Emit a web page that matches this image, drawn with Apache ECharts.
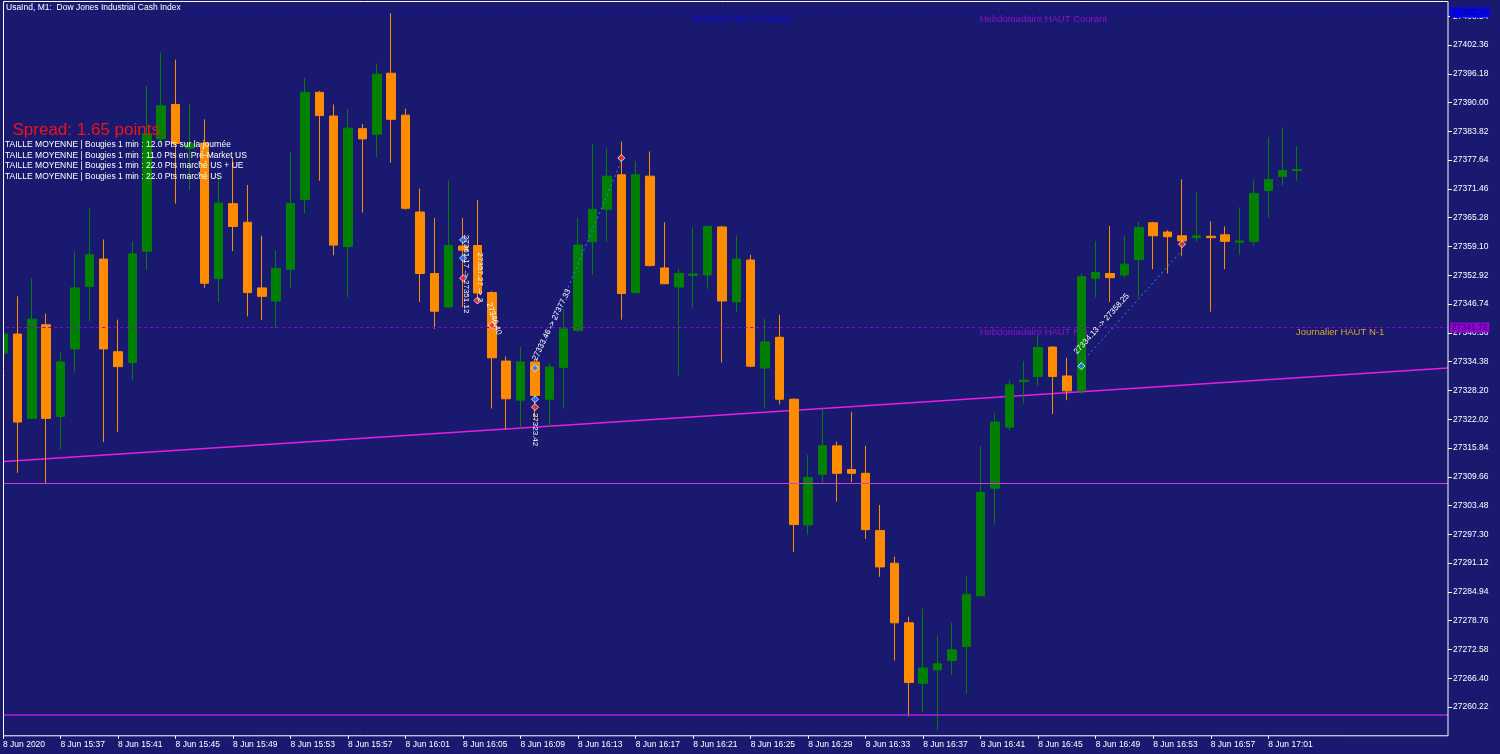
<!DOCTYPE html>
<html><head><meta charset="utf-8">
<script src="https://cdn.jsdelivr.net/npm/echarts@6/dist/echarts.min.js"></script>
<style>html,body{margin:0;padding:0;background:#191970;}#c{width:1500px;height:754px;}</style>
</head><body><div id="c"></div>
<script>
// ---- data ----
const categories = ['15:33','15:34','15:35','15:36','15:37','15:38','15:39','15:40','15:41','15:42','15:43','15:44','15:45','15:46','15:47','15:48','15:49','15:50','15:51','15:52','15:53','15:54','15:55','15:56','15:57','15:58','15:59','16:00','16:01','16:02','16:03','16:04','16:05','16:06','16:07','16:08','16:09','16:10','16:11','16:12','16:13','16:14','16:15','16:16','16:17','16:18','16:19','16:20','16:21','16:22','16:23','16:24','16:25','16:26','16:27','16:28','16:29','16:30','16:31','16:32','16:33','16:34','16:35','16:36','16:37','16:38','16:39','16:40','16:41','16:42','16:43','16:44','16:45','16:46','16:47','16:48','16:49','16:50','16:51','16:52','16:53','16:54','16:55','16:56','16:57','16:58','16:59','17:00','17:01','17:02','17:03'];
const tickIndexes = [0,4,8,12,16,20,24,28,32,36,40,44,48,52,56,60,64,68,72,76,80,84,88];
const firstLabel = '8 Jun 2020';
const dayPrefix = '8 Jun ';
const openV  = [27336.2,27340.3,27322.2,27342.3,27322.6,27337.1,27350.5,27356.4,27336.5,27334.2,27358.1,27382.2,27389.6,27380.2,27381.3,27352.2,27368.3,27364.3,27350.2,27347.4,27354.2,27369.2,27392.2,27387.1,27359.1,27384.4,27383.2,27396.3,27387.3,27366.5,27353.3,27346.1,27359.2,27359.3,27349.2,27334.5,27326.1,27334.3,27326.3,27333.1,27341.1,27360.1,27367.1,27374.5,27349.2,27374.2,27354.5,27350.4,27352.9,27353.0,27363.3,27347.2,27356.2,27333.0,27339.6,27326.3,27299.3,27310.2,27316.3,27311.2,27310.4,27298.1,27291.1,27278.3,27265.3,27268.2,27270.2,27273.2,27284.1,27307.2,27320.3,27330.1,27331.2,27337.5,27331.3,27328.1,27352.3,27353.3,27353.0,27356.3,27364.2,27362.2,27361.4,27361.0,27361.3,27361.6,27360.0,27360.2,27371.1,27374.1,27375.4];
const closeV = [27340.3,27321.4,27343.5,27322.2,27334.3,27350.2,27357.3,27337.1,27333.3,27357.5,27383.3,27389.3,27381.2,27381.2,27351.2,27368.4,27363.4,27349.2,27348.4,27354.4,27368.3,27392.2,27387.2,27359.4,27384.5,27382.2,27396.1,27386.4,27367.3,27353.3,27345.2,27359.3,27358.3,27349.1,27335.2,27326.4,27334.3,27327.1,27333.2,27341.4,27359.4,27367.1,27374.2,27349.0,27374.5,27355.0,27351.1,27353.3,27353.2,27363.4,27347.4,27356.4,27333.4,27338.6,27326.3,27299.4,27309.5,27316.3,27310.4,27310.4,27298.3,27290.3,27278.3,27265.5,27268.6,27269.5,27272.5,27284.4,27306.3,27321.4,27329.4,27330.4,27337.4,27331.2,27328.1,27352.6,27353.5,27352.4,27355.3,27363.2,27361.4,27361.2,27360.3,27361.4,27361.0,27360.2,27360.3,27370.5,27373.5,27375.4,27375.6];
const lowV   = [27335.0,27310.5,27322.0,27308.3,27315.5,27332.2,27343.1,27317.1,27319.3,27330.4,27354.1,27381.0,27368.3,27371.2,27350.2,27347.2,27358.1,27344.1,27343.3,27341.6,27350.2,27366.2,27373.2,27357.2,27348.2,27366.4,27378.3,27377.1,27367.0,27347.2,27341.4,27346.0,27346.1,27347.5,27324.3,27319.8,27320.0,27321.8,27320.3,27324.3,27340.8,27353.0,27360.1,27343.4,27349.0,27354.8,27351.0,27331.3,27346.0,27350.0,27334.2,27345.0,27333.2,27324.3,27325.2,27293.5,27297.2,27308.2,27304.3,27308.5,27296.3,27288.2,27270.2,27258.2,27259.0,27255.2,27267.1,27263.1,27284.0,27299.6,27319.6,27325.4,27329.2,27323.1,27326.1,27327.4,27348.2,27347.2,27352.3,27348.2,27354.2,27353.3,27357.0,27360.1,27345.1,27354.2,27357.3,27359.3,27365.2,27372.2,27373.2];
const highV  = [27341.0,27348.4,27352.3,27344.7,27336.4,27358.1,27367.3,27360.6,27343.4,27360.2,27393.6,27400.8,27399.2,27389.6,27386.4,27374.0,27378.3,27372.3,27361.4,27358.3,27379.3,27395.3,27392.5,27389.6,27388.6,27385.4,27398.4,27409.2,27388.7,27371.5,27365.2,27373.3,27365.2,27369.1,27349.5,27335.5,27337.5,27335.0,27334.0,27345.7,27365.2,27381.1,27380.1,27381.6,27377.4,27379.5,27364.3,27354.3,27363.2,27363.6,27363.5,27361.4,27357.3,27343.6,27344.4,27326.5,27314.3,27324.3,27317.2,27323.6,27316.3,27303.6,27292.5,27279.6,27281.3,27275.5,27278.3,27288.4,27316.3,27323.4,27330.4,27334.5,27340.1,27337.7,27335.2,27353.3,27360.3,27363.5,27361.4,27364.4,27364.4,27362.6,27373.5,27370.7,27364.5,27363.4,27367.5,27373.3,27382.6,27384.7,27380.6];

const xMin = -0.1877, xMax = 100.5;           // visible bar slots
const yMin = 27254.04, yMax = 27411.7, yStep = 6.18;
const monthlyHigh = 27409.34;
const prevWeekHigh = 27341.72;
const levelA = 27308.28;
const levelB = 27258.55;
const trendStart = 27312.9, trendEnd = 27333.01;

const buyMarks  = [[32,27360.5],[32,27356.6],[37,27333.0],[37,27326.3],[75,27333.4]];
const sellMarks = [[32,27352.3],[33,27347.5],[34,27342.2],[37,27324.6],[43,27378.1],[82,27359.6]];
const trades = [
  {from:[37,27333.46], to:[43,27377.33]},
  {from:[75,27334.13], to:[82,27358.25]}
];
const levelTexts = [
  {i:48, v:monthlyHigh, text:'Mensuel HAUT Courant', color:'#0a0ae6', dy:2},
  {i:68, v:monthlyHigh, text:'Hebdomadaire HAUT Courant', color:'#8e10d0', dy:2},
  {i:68, v:prevWeekHigh, text:'Hebdomadaire HAUT N-1', color:'#8e10d0', dy:0},
  {i:90, v:prevWeekHigh, text:'Journalier HAUT N-1', color:'#daa520', dy:0}
];
const tradeTexts = [
  {i:75, v:27334.13, text:'27334.13 -> 27358.25', rot:48, dx:-3, dy:-7, va:'bottom'},
  {i:37, v:27333.46, text:'27333.46 -> 27377.33', rot:64, dx:3, dy:-4, va:'bottom'},
  {i:37, v:27323.8, text:'27323.42', rot:-90, dx:0, dy:2, va:'middle'},
  {i:32, v:27361.6, text:'27361.17 -> 27351.12', rot:-90, dx:3, dy:0, va:'middle'},
  {i:33, v:27357.8, text:'27357.27 -> 2', rot:-90, dx:3, dy:0, va:'middle'},
  {i:34, v:27347.0, text:'27346.40', rot:-72, dx:-3, dy:0, va:'middle'}
];
const infoLines = [
  'TAILLE MOYENNE | Bougies 1 min : 12.0 Pts sur la journée',
  'TAILLE MOYENNE | Bougies 1 min : 11.0 Pts en Pré-Market US',
  'TAILLE MOYENNE | Bougies 1 min : 22.0 Pts marché US + UE',
  'TAILLE MOYENNE | Bougies 1 min : 22.0 Pts marché US'
];
const titleText = 'UsaInd, M1:  Dow Jones Industrial Cash Index';
const spreadText = 'Spread: 1.65 points.';

// ---- chart ----
const BG = '#191970';
const FONT = 'Liberation Sans, Arial, sans-serif';
const candleData = openV.map((o, i) => [i, o, closeV[i], lowV[i], highV[i]]);
const fmt2 = v => Number(v).toFixed(2);

const chart = echarts.init(document.getElementById('c'), null, {renderer: 'canvas'});

chart.setOption({
  backgroundColor: BG,
  animation: false,
  grid: {left: 0, right: 52, top: 1.5, bottom: 18.2, containLabel: false},
  xAxis: {
    type: 'value', min: xMin, max: xMax,
    axisLine: {show: false, onZero: false},
    axisTick: {show: true, customValues: tickIndexes, length: 3, lineStyle: {color: '#ffffff'}},
    axisLabel: {customValues: tickIndexes, align: 'left', color: '#ffffff', fontSize: 8.5, fontFamily: FONT, margin: 4,
      formatter: v => v === 0 ? firstLabel : dayPrefix + categories[Math.round(v)]},
    splitLine: {show: false}
  },
  yAxis: {
    type: 'value', position: 'right', min: yMin, max: yMax, interval: yStep, scale: true,
    axisLine: {show: false, onZero: false},
    axisTick: {show: true, length: 4, lineStyle: {color: '#ffffff'}},
    axisLabel: {color: '#ffffff', fontSize: 8.5, fontFamily: FONT, margin: 5, showMinLabel: false, showMaxLabel: false, formatter: fmt2},
    splitLine: {show: false}
  },
  series: [
    {
      type: 'candlestick', data: candleData, encode: {x: 0, y: [1, 2, 3, 4]}, barWidth: 9,
      itemStyle: {color: '#008000', color0: '#ff8c00', borderColor: '#008000', borderColor0: '#ff8c00', borderWidth: 1},
      markLine: {
        silent: true, symbol: 'none', animation: false,
        data: [
          {yAxis: monthlyHigh, lineStyle: {color: '#0000ff', type: [2, 3], width: 1},
            label: {show: true, position: 'end', distance: 2, formatter: () => fmt2(monthlyHigh), backgroundColor: '#0000ff', color: '#0a0a50', padding: [1, 2, 0, 2], fontSize: 8.5, fontFamily: FONT}},
          {yAxis: prevWeekHigh, lineStyle: {color: '#9400d3', type: [3, 3], width: 1},
            label: {show: true, position: 'end', distance: 2, formatter: () => fmt2(prevWeekHigh), backgroundColor: '#9400d3', color: '#2a0650', padding: [1, 2, 0, 2], fontSize: 8.5, fontFamily: FONT}},
          {yAxis: levelA, lineStyle: {color: '#d23ce6', type: 'solid', width: 1}, label: {show: false}},
          {yAxis: levelB, lineStyle: {color: '#b020d8', type: 'solid', width: 1.5}, label: {show: false}}
        ]
      },
      z: 3
    },
    {
      type: 'line', data: [[xMin, trendStart], [xMax, trendEnd]],
      symbol: 'none', lineStyle: {color: '#e61ee6', width: 1.5}, z: 2, silent: true
    },
    ...trades.map(t => ({
      type: 'line', data: [t.from, t.to],
      symbol: 'none', lineStyle: {color: '#2a84ff', width: 1, type: [2, 3]}, z: 4, silent: true
    })),
    {
      type: 'scatter', data: buyMarks, symbol: 'diamond', symbolSize: 7,
      itemStyle: {color: '#1e78ff', borderColor: '#ffffff', borderWidth: 1}, z: 6, silent: true
    },
    {
      type: 'scatter', data: sellMarks, symbol: 'diamond', symbolSize: 7,
      itemStyle: {color: '#ff2a2a', borderColor: '#ffffff', borderWidth: 1}, z: 6, silent: true
    }
  ]
});

function px(i, v) { return chart.convertToPixel({xAxisIndex: 0, yAxisIndex: 0}, [i, v]); }

const g = [];
const TOP = 1; // overlay layer
g.push({type: 'rect', zlevel: TOP, z: 1, silent: true, shape: {x: 0, y: 0, width: 3, height: 736}, style: {fill: BG}});
g.push({type: 'rect', zlevel: TOP, z: 2, silent: true, shape: {x: 3.5, y: 1.5, width: 1444.5, height: 734.3}, style: {fill: 'none', stroke: '#ffffff', lineWidth: 1}});
g.push({type: 'text', zlevel: TOP, z: 3, silent: true, x: 5, y: 2,
  style: {text: titleText, fill: '#ffffff', font: '8.5px ' + FONT, backgroundColor: BG, padding: [1, 2, 3, 1], verticalAlign: 'top'}});
g.push({type: 'text', zlevel: TOP, z: 5, silent: true, x: 12.5, y: 130,
  style: {text: spreadText, fill: '#f01414', font: '17px ' + FONT, verticalAlign: 'middle', align: 'left'}});
infoLines.forEach((t, k) => {
  g.push({type: 'text', zlevel: TOP, z: 4, silent: true, x: 5, y: 144.5 + k * 10.7,
    style: {text: t, fill: '#ffffff', font: '8.5px ' + FONT, verticalAlign: 'middle'}});
});
levelTexts.forEach(o => {
  const p = px(o.i, o.v);
  g.push({type: 'text', zlevel: 0, z: 1, silent: true, x: p[0] - 1, y: p[1] + o.dy,
    style: {text: o.text, fill: o.color, font: '9.5px ' + FONT, verticalAlign: 'top'}});
});
tradeTexts.forEach(o => {
  const p = px(o.i, o.v);
  g.push({type: 'text', zlevel: TOP, z: 3, silent: true, x: p[0] + o.dx, y: p[1] + o.dy, rotation: o.rot * Math.PI / 180,
    style: {text: o.text, fill: '#ffffff', font: '8px ' + FONT, verticalAlign: o.va, align: 'left'}});
});
chart.setOption({graphic: g});
</script>
</body></html>
